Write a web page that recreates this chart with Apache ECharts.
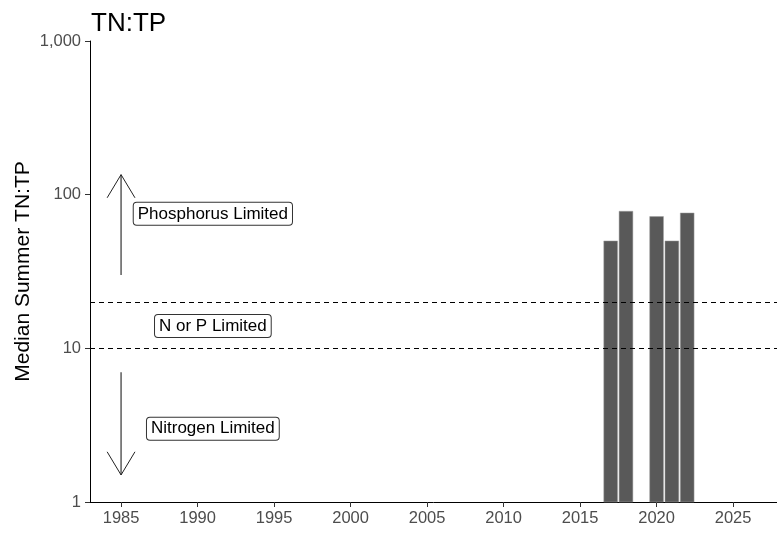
<!DOCTYPE html>
<html>
<head>
<meta charset="utf-8">
<script src="https://cdn.jsdelivr.net/npm/echarts@6/dist/echarts.min.js"></script>
<style>html,body{margin:0;padding:0;background:#fff;}#c{width:777px;height:537px;}</style>
</head>
<body>
<div id="c"></div>
<script>
// Data
const years = [2017, 2018, 2020, 2021, 2022];
const ratios = [50, 78, 72, 50, 76];
const xTicks = [1985, 1990, 1995, 2000, 2005, 2010, 2015, 2020, 2025];
const thresholds = [10, 20];
const arrowX = [1985, 1985];
const arrowFrom = [30, 7];
const arrowTo = [135, 1.5];
const noteTexts = ['Phosphorus Limited', 'N or P Limited', 'Nitrogen Limited'];
const noteX = [1991, 1991, 1991];
const noteY = [75, 14, 3];

const FONT = 'Liberation Sans, Arial, sans-serif';
const chart = echarts.init(document.getElementById('c'), null, {renderer: 'canvas'});

const barData = years.map((y, i) => [y, ratios[i]]);
const arrowData = arrowX.map((x, i) => [x, arrowFrom[i], arrowTo[i]]);
const noteData = noteTexts.map((t, i) => [noteX[i], noteY[i], t]);

chart.setOption({
  animation: false,
  backgroundColor: '#fff',
  title: {
    text: 'TN:TP', left: 86, top: 6,
    textStyle: {fontFamily: FONT, fontSize: 26, fontWeight: 'normal', color: '#000'}
  },
  grid: {left: 90, right: 0, top: 41, bottom: 35, containLabel: false, outerBoundsMode: 'none'},
  xAxis: {
    type: 'value', min: 1982.97, max: 2027.87,
    axisLine: {show: true, lineStyle: {color: '#000', width: 1}},
    axisTick: {show: true, length: 5, lineStyle: {color: '#333'}, customValues: xTicks},
    axisLabel: {customValues: xTicks, color: '#4d4d4d', fontFamily: FONT, fontSize: 16.5, margin: 8,
      formatter: v => String(v)},
    splitLine: {show: false}
  },
  yAxis: {
    type: 'log', logBase: 10, min: 1, max: 1000,
    name: 'Median Summer TN:TP', nameLocation: 'middle', nameGap: 56, nameRotate: 90,
    nameMoveOverlap: false,
    nameTextStyle: {fontFamily: FONT, fontSize: 21, color: '#000'},
    axisLine: {show: true, lineStyle: {color: '#000', width: 1}},
    axisTick: {show: true, length: 5, lineStyle: {color: '#333'}},
    axisLabel: {color: '#4d4d4d', fontFamily: FONT, fontSize: 16.5, margin: 9,
      formatter: v => v.toLocaleString('en-US')},
    splitLine: {show: false}, minorTick: {show: false}
  },
  series: [
    {
      type: 'custom', data: barData, encode: {x: 0, y: 1}, z: 2,
      renderItem: (params, api) => {
        const x = api.value(0), y = api.value(1);
        const tl = api.coord([x - 0.45, y]);
        const br = api.coord([x + 0.45, 1]);
        return {type: 'rect', shape: {x: tl[0], y: tl[1], width: br[0] - tl[0], height: br[1] - tl[1]},
          style: {fill: '#595959', stroke: '#a0a0a0', lineWidth: 0.5}};
      },
      markLine: {
        silent: true, symbol: ['none', 'none'], label: {show: false},
        lineStyle: {type: [5, 4], color: '#000', width: 1},
        data: thresholds.map(t => ({yAxis: t}))
      }
    },
    {
      type: 'custom', data: arrowData, encode: {x: 0, y: [1, 2]}, z: 3,
      renderItem: (params, api) => {
        const p0 = api.coord([api.value(0), api.value(1)]);
        const p1 = api.coord([api.value(0), api.value(2)]);
        const dx = p1[0] - p0[0], dy = p1[1] - p0[1];
        const len = Math.sqrt(dx * dx + dy * dy);
        const ux = dx / len, uy = dy / len;
        const L = 27, a = 31 * Math.PI / 180;
        const c = Math.cos(a), s = Math.sin(a);
        const l1 = [p1[0] - L * (ux * c - uy * s), p1[1] - L * (uy * c + ux * s)];
        const l2 = [p1[0] - L * (ux * c + uy * s), p1[1] - L * (uy * c - ux * s)];
        return {type: 'group', children: [
          {type: 'line', shape: {x1: p0[0], y1: p0[1], x2: p1[0], y2: p1[1]}, style: {stroke: '#333', lineWidth: 1.2}},
          {type: 'polyline', shape: {points: [l1, p1, l2]}, style: {stroke: '#222', lineWidth: 1, fill: null}}
        ]};
      }
    },
    {
      type: 'custom', data: noteData, encode: {x: 0, y: 1}, z: 4,
      renderItem: (params, api) => {
        const p = api.coord([api.value(0), api.value(1)]);
        return {type: 'text', x: p[0], y: p[1], style: {
          text: noteData[params.dataIndex][2], fontFamily: FONT, fontSize: 17, fill: '#000',
          align: 'center', verticalAlign: 'middle',
          backgroundColor: '#fff', borderColor: '#333', borderWidth: 1, borderRadius: 3,
          padding: [3, 4, 2, 4]
        }};
      }
    }
  ]
});
</script>
</body>
</html>
